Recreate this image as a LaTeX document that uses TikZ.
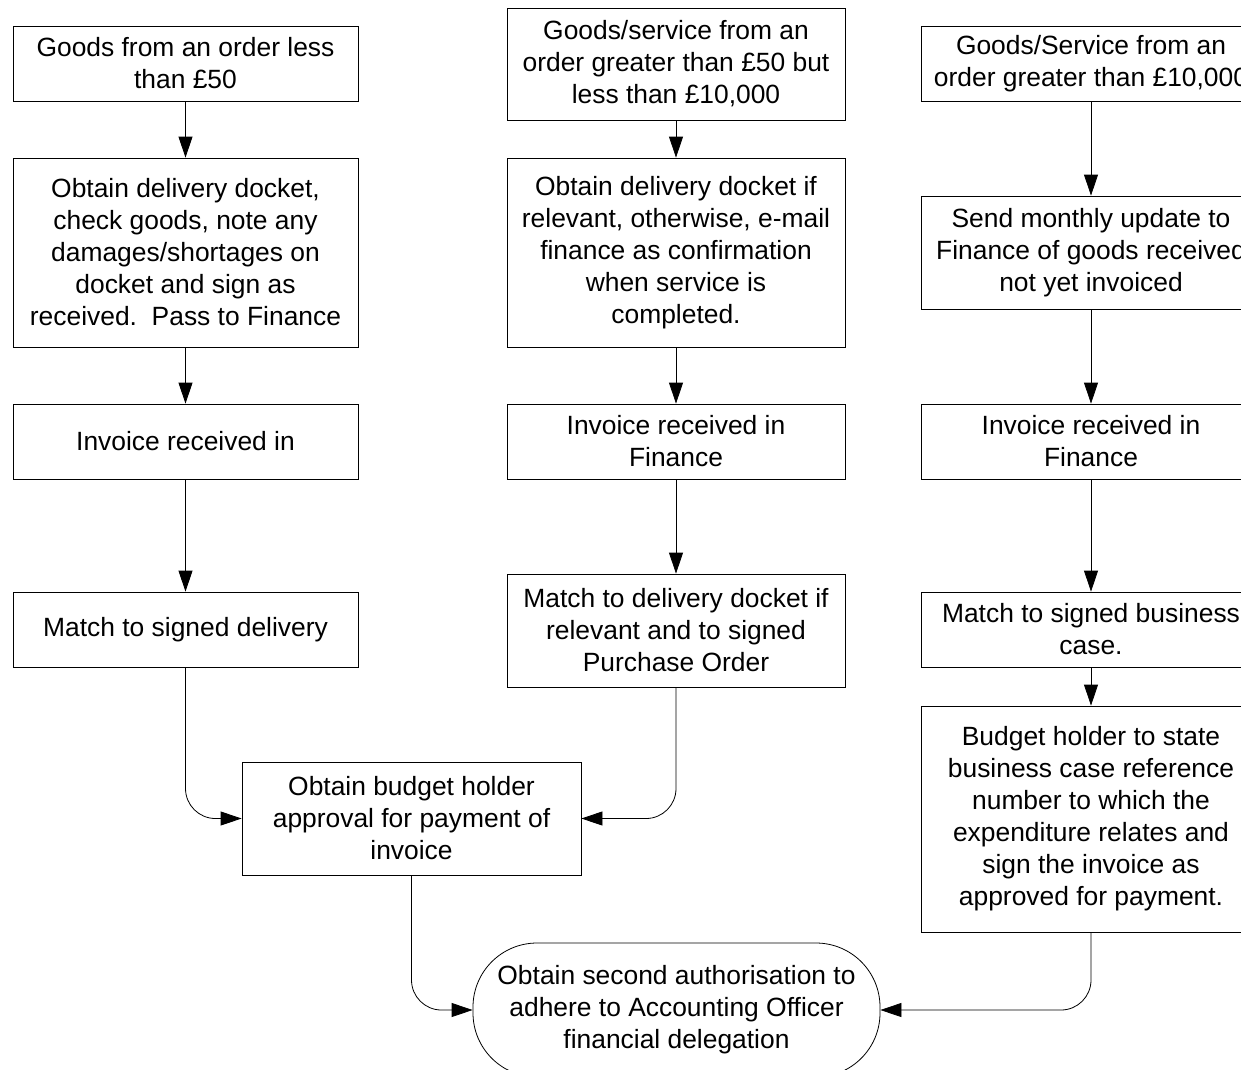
\documentclass[tikz,border=0pt]{standalone}
\usepackage{fontspec}
\setmainfont{Liberation Sans}
\usetikzlibrary{arrows.meta}
\tikzset{
  procbox/.style={draw,line width=0.8pt,inner sep=0pt,align=center,font=\fontsize{26.4}{32}\selectfont},
  termbox/.style={procbox,rounded corners=64pt},
  flowline/.style={line width=0.8pt,-{Triangle[length=21pt,width=14pt]}}
}
\begin{document}
\begin{tikzpicture}[x=1pt,y=-1pt]
      \useasboundingbox (0,0) rectangle (1241,1069);
      \fill[white] (0,0) rectangle (1241,1069);
      \clip (0,0) rectangle (1241,1069);
      \node[procbox,minimum width=345pt,minimum height=75pt] (a1) at (185.5,63.5) {Goods from an order less\\than £50};
      \node[procbox,minimum width=345pt,minimum height=189pt] (a2) at (185.5,252.5) {Obtain delivery docket,\\check goods, note any\\damages/shortages on\\docket and sign as\\received.\ \ Pass to Finance};
      \node[procbox,minimum width=345pt,minimum height=75pt] (a3) at (185.5,441.5) {Invoice received in};
      \node[procbox,minimum width=345pt,minimum height=75pt] (a4) at (185.5,629.5) {Match to signed delivery};
      \node[procbox,minimum width=338pt,minimum height=112pt] (b1) at (676,64) {Goods/service from an\\order greater than £50 but\\less than £10,000};
      \node[procbox,minimum width=338pt,minimum height=189pt] (b2) at (676,252.5) {Obtain delivery docket if\\relevant, otherwise, e-mail\\finance as confirmation\\when service is\\completed.};
      \node[procbox,minimum width=338pt,minimum height=75pt] (b3) at (676,441.5) {Invoice received in\\Finance};
      \node[procbox,minimum width=338pt,minimum height=113pt] (b4) at (676,630.5) {Match to delivery docket if\\relevant and to signed\\Purchase Order};
      \node[procbox,minimum width=340pt,minimum height=75pt] (c1) at (1091,63.5) {Goods/Service from an\\order greater than £10,000};
      \node[procbox,minimum width=340pt,minimum height=113pt] (c2) at (1091,252.5) {Send monthly update to\\Finance of goods received\\not yet invoiced};
      \node[procbox,minimum width=340pt,minimum height=75pt] (c3) at (1091,441.5) {Invoice received in\\Finance};
      \node[procbox,minimum width=340pt,minimum height=75pt] (c4) at (1091,629.5) {Match to signed business\\case.};
      \node[procbox,minimum width=340pt,minimum height=226pt] (c5) at (1091,819) {Budget holder to state\\business case reference\\number to which the\\expenditure relates and\\sign the invoice as\\approved for payment.};
      \node[procbox,minimum width=339pt,minimum height=113pt] (d) at (411.5,818.5) {Obtain budget holder\\approval for payment of\\invoice};
      \node[termbox,minimum width=407pt,minimum height=134pt] (e) at (676.5,1010) {Obtain second authorisation to\\adhere to Accounting Officer\\financial delegation};
      \draw[flowline] (a1)--(a2); \draw[flowline] (a2)--(a3); \draw[flowline] (a3)--(a4);
      \draw[flowline] (b1)--(b2); \draw[flowline] (b2)--(b3); \draw[flowline] (b3)--(b4);
      \draw[flowline] (c1)--(c2); \draw[flowline] (c2)--(c3); \draw[flowline] (c3)--(c4); \draw[flowline] (c4)--(c5);
      \draw[flowline,rounded corners=30pt] (a4.south)|-(d.west);
      \draw[flowline,rounded corners=30pt] (b4.south)|-(d.east);
      \draw[flowline,rounded corners=30pt] (d.south)|-(e.west);
      \draw[flowline,rounded corners=30pt] (c5.south)|-(e.east);
\end{tikzpicture}
\end{document}
